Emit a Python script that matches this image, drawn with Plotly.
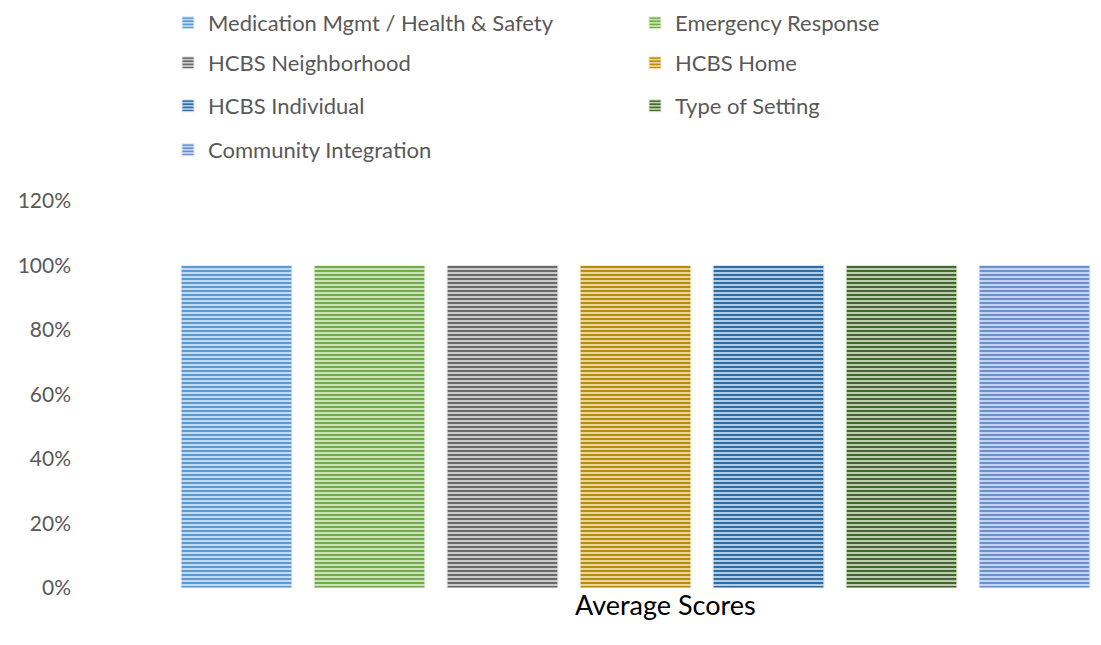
import plotly.graph_objects as go

categories = ["Average Scores"]
series_names = [
    "Medication Mgmt / Health & Safety",
    "Emergency Response",
    "HCBS Neighborhood",
    "HCBS Home",
    "HCBS Individual",
    "Type of Setting",
    "Community Integration",
]
series_values = [1.0, 1.0, 1.0, 1.0, 1.0, 1.0, 1.0]
dark_colors = ["#5B9BD5", "#70AD47", "#6A6A6A", "#B88C0A", "#2E6EA8", "#43682B", "#6A8FD2"]
light_colors = ["#DCE9F6", "#E3F0DA", "#E2E2E2", "#F6E9C4", "#D6E2F0", "#DDE7D4", "#DCE5F5"]
y_ticks = [0, 0.2, 0.4, 0.6, 0.8, 1.0, 1.2]

FONT = "Lato"
OFF = 8  # page body margin
W, H = 1101, 645
L, R, T, B = 170 - OFF, 1101 - OFF, 201 - OFF, 588 - OFF
def py(p):
    return (B - (p - OFF)) / (B - T)
def px(p):
    return ((p - OFF) - L) / (R - L)

# legend slot positions (page pixels) for each series: two columns, four rows
leg_x = [168, 635, 168, 635, 168, 635, 168]
leg_y = [23, 23, 63, 63, 106, 106, 150]

fig = go.Figure()
legs = {}
for i, name in enumerate(series_names):
    lid = "legend" if i == 0 else f"legend{i + 1}"
    fig.add_trace(go.Bar(
        x=categories, y=[series_values[i]], name=name,
        marker=dict(
            color=light_colors[i],
            line=dict(width=1, color=light_colors[i]),
            pattern=dict(shape="-", fgcolor=dark_colors[i], bgcolor=light_colors[i],
                         size=4, solidity=0.6, fillmode="replace"),
        ),
        legend=lid,
    ))
    legs[lid] = dict(orientation="h", xanchor="left", yanchor="middle",
                     x=px(leg_x[i]), y=py(leg_y[i]),
                     font=dict(family=FONT, size=22, color="#595959"),
                     bgcolor="rgba(0,0,0,0)")

fig.update_layout(
    width=W, height=H,
    margin=dict(l=L, r=W - R, t=T, b=H - B, pad=0, autoexpand=False),
    paper_bgcolor="white", plot_bgcolor="white",
    barmode="group", bargap=0.0, bargroupgap=0.167,
    showlegend=True,
    **legs,
    xaxis=dict(showticklabels=False, showgrid=False, zeroline=False, showline=False),
    yaxis=dict(range=[0, 1.2], tickvals=y_ticks, tickformat=".0%",
               showgrid=False, zeroline=False, showline=False,
               ticklabelstandoff=98,
               tickfont=dict(family=FONT, size=21, color="#595959")),
    annotations=[dict(text=categories[0], x=px(665), y=py(604), xref="paper", yref="paper",
                      xanchor="center", yanchor="middle", showarrow=False,
                      font=dict(family=FONT, size=27, color="#000000"))],
)

fig.write_html("out.html")
